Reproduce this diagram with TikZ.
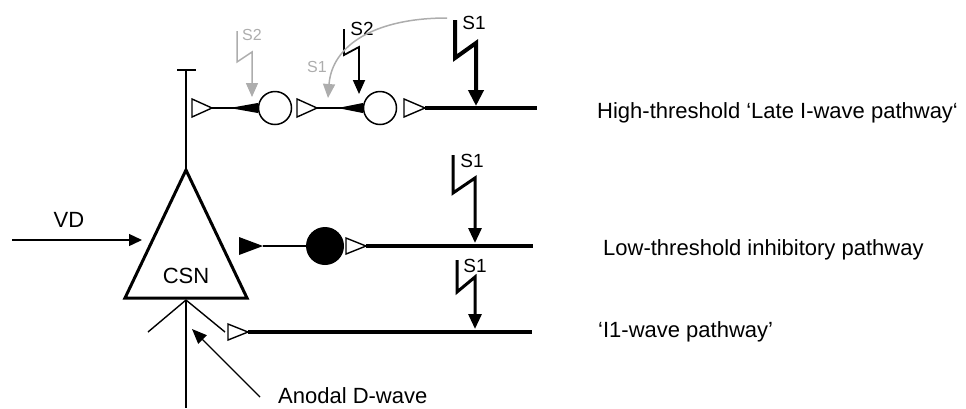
\documentclass[tikz,border=0pt]{standalone}
\usepackage{fontspec}
\setmainfont{Liberation Sans}
\usetikzlibrary{arrows.meta,calc}
\definecolor{lightgrey}{HTML}{ADADAD}
\begin{document}
\begin{tikzpicture}[x=1pt,y=-1pt,
  fiber/.style={line width=1.4pt},
  axon/.style={line width=4.5pt},
  outline/.style={line width=3pt,line join=miter},
  synopen/.style={draw,line width=1.4pt,fill=white,line join=miter},
  cell/.style={circle,draw,line width=1.5pt,inner sep=0pt,minimum size=33pt},
  bolt/.style={line width=3pt,line join=miter,-{Triangle[length=15pt,width=13pt]}},
  lbl/.style={font=\fontsize{22}{26}\selectfont,anchor=base west,inner sep=0pt},
  slbl/.style={font=\fontsize{19}{22}\selectfont,anchor=base,inner sep=0pt},
  glbl/.style={font=\fontsize{16}{19}\selectfont,anchor=base,inner sep=0pt,text=lightgrey}]
\useasboundingbox (0,0) rectangle (966,408);

% ---- CSN ----
\coordinate (apex) at (186,170);
\coordinate (base) at (186,300);
\draw[outline] (apex) -- (247,298) -- (125,298) -- cycle;
\node[font=\fontsize{22}{26}\selectfont,anchor=base,inner sep=0pt] (csn) at (186,283) {CSN};

% VD input
\node[font=\fontsize{22}{26}\selectfont,anchor=base,inner sep=0pt] (vd) at (69,227) {VD};
\coordinate (vdstart) at (12,240);
\coordinate (vdend) at (142,240);
\draw[fiber,-{Triangle[length=13pt,width=12pt]}] (vdstart) -- (vdend);

% apical dendrite with T
\coordinate (ttop) at (186,70);
\draw[fiber] (177,70) -- (196,70);
\draw[fiber] (ttop) -- (apex);

% ---- High-threshold pathway ----
\node[cell] (n1) at (275,108) {};
\node[cell] (n2) at (380,108) {};
\coordinate (t1) at (212,108);
\coordinate (t2) at (317,108);
\coordinate (t3) at (425,108);
\coordinate (hend) at (537,108);
\draw[fiber] (t1) -- (n1.west);
\fill ($(n1.west)+(-28,0)$) -- ($(n1.west)+(0,-5)$) -- ($(n1.west)+(0,5)$) -- cycle;
\draw[fiber] (t2) -- (n2.west);
\fill ($(n2.west)+(-25,0)$) -- ($(n2.west)+(0,-5)$) -- ($(n2.west)+(0,5)$) -- cycle;
\draw[axon] (t3) -- (hend);
\draw[synopen] (192,99) -- (t1) -- (192,117) -- cycle;
\draw[synopen] (297,99) -- (t2) -- (297,117) -- cycle;
\draw[synopen] (404,99) -- (t3) -- (404,117) -- cycle;

% stimuli on top pathway
\draw[bolt,line width=4pt,-{Triangle[length=16pt,width=15pt]}] (455,20) -- (455,58) -- (476,43) -- (476,106);
\node[slbl] (s1a) at (474,29) {S1};
\coordinate (s2tip) at (359,94);
\draw[line width=1.8pt,line join=miter,-{Triangle[length=14pt,width=12pt]}] (344,29) -- (344,55) -- (359,47) -- (s2tip);
\node[slbl] (s2a) at (362,35) {S2};
\draw[lightgrey,line width=1.5pt,line join=miter,-{Triangle[length=14pt,width=12pt]}] (237,31) -- (237,62) -- (252,52) -- (252,97);
\node[glbl] (s2g) at (252,40) {S2};
\coordinate (gs) at (447,18);
\coordinate (ge) at (328,98);
\draw[lightgrey,line width=1.5pt,-{Triangle[length=14pt,width=12pt]}] (gs) .. controls (375,18) and (332,45) .. (ge);
\node[glbl] (s1g) at (317,72) {S1};

\node[lbl] (lab1) at (597,118) {High-threshold ‘Late I-wave pathway‘};

% ---- Low-threshold inhibitory pathway ----
\node[circle,fill=black,inner sep=0pt,minimum size=38pt] (n3) at (325,246) {};
\coordinate (ft) at (263,246);
\coordinate (t4) at (366,246);
\coordinate (mend) at (533,246);
\fill (239,237) -- (ft) -- (239,255) -- cycle;
\draw[fiber] (ft) -- (n3.west);
\draw[axon] (t4) -- (mend);
\draw[synopen] (346,238) -- (t4) -- (346,254) -- cycle;
\draw[bolt] (453,155) -- (453,193) -- (475,178) -- (475,243);
\node[slbl] (s1b) at (472,167) {S1};
\node[lbl] (lab2) at (603,255) {Low-threshold inhibitory pathway};

% ---- I1-wave pathway ----
\coordinate (t5) at (248,332);
\coordinate (lend) at (532,332);
\draw[fiber] (base) -- (186,408);
\draw[fiber] (base) -- (148,332);
\draw[fiber] (base) -- (225,332);
\draw[axon] (t5) -- (lend);
\draw[synopen] (228,324) -- (t5) -- (228,340) -- cycle;
\draw[bolt] (457,260) -- (457,292) -- (475,277) -- (475,329);
\node[slbl] (s1c) at (475,272) {S1};
\node[lbl] (lab3) at (598,337) {‘I1-wave pathway’};

% ---- Anodal D-wave ----
\node[lbl] (anodal) at (278,403) {Anodal D-wave};
\coordinate (astart) at (260,397);
\coordinate (aend) at (192,329);
\draw[fiber,-{Triangle[length=15pt,width=12pt]}] (astart) -- (aend);
\end{tikzpicture}
\end{document}
